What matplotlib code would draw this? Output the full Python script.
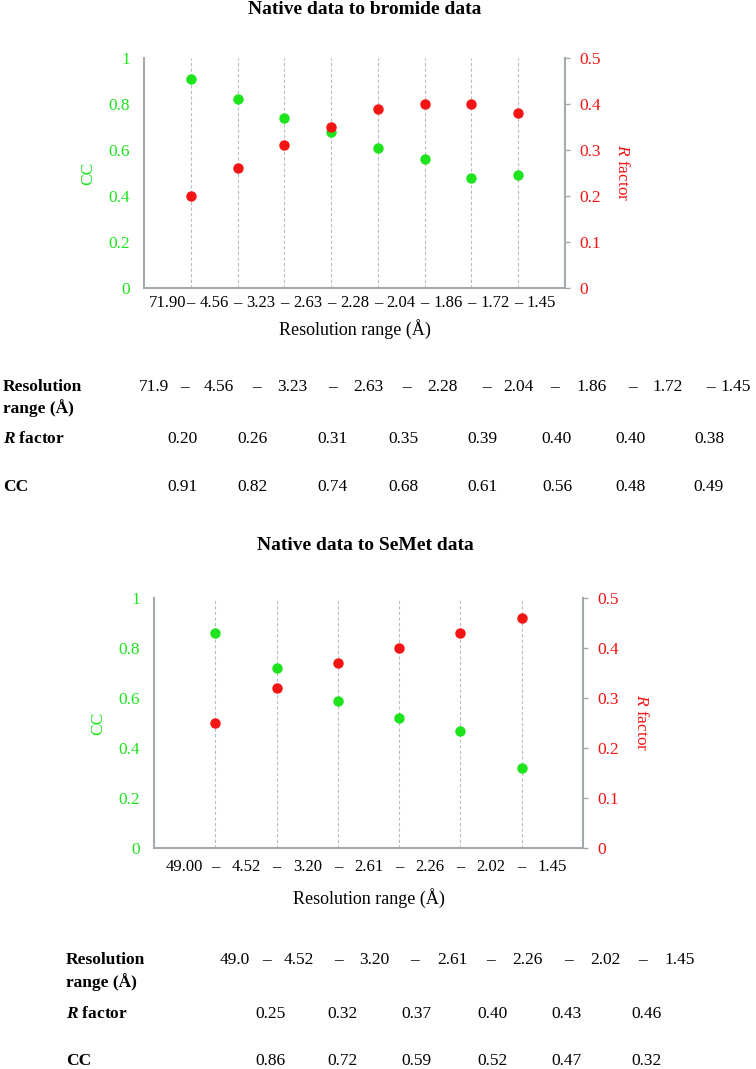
import matplotlib
matplotlib.use("Agg")
import matplotlib.pyplot as plt
import numpy as np

plt.rcParams['font.family'] = ['Liberation Serif', 'DejaVu Serif']
plt.rcParams['mathtext.fontset'] = 'custom'
plt.rcParams['mathtext.rm'] = 'Liberation Serif'
plt.rcParams['mathtext.it'] = 'Liberation Serif:italic'
plt.rcParams['mathtext.bf'] = 'Liberation Serif:bold:italic'

# ---------------- data
# bromide
br_bounds = ["71.90", "4.56", "3.23", "2.63", "2.28", "2.04", "1.86", "1.72", "1.45"]
br_table_bounds = ["71.9", "4.56", "3.23", "2.63", "2.28", "2.04", "1.86", "1.72", "1.45"]
br_r = [0.20, 0.26, 0.31, 0.35, 0.39, 0.40, 0.40, 0.38]
br_cc = [0.91, 0.82, 0.74, 0.68, 0.61, 0.56, 0.48, 0.49]

# semet
se_bounds = ["49.00", "4.52", "3.20", "2.61", "2.26", "2.02", "1.45"]
se_table_bounds = ["49.0", "4.52", "3.20", "2.61", "2.26", "2.02", "1.45"]
se_r = [0.25, 0.32, 0.37, 0.40, 0.43, 0.46]
se_cc = [0.86, 0.72, 0.59, 0.52, 0.47, 0.32]

GREEN = "#1ee41e"
RED = "#f41414"
SPINE = "#a3aaae"
GRID = "#b8bfc3"
FS = 12.5

W, H = 756, 1069
fig = plt.figure(figsize=(W / 100, H / 100), dpi=100)


def px(x, y):
    # pixel coords (from top-left) -> figure fraction
    return x / W, 1 - y / H


def make_chart(rect, bounds, cc, rf, title, title_y, xt_pad, xl_pad, r_pad):
    ax = fig.add_axes(rect)
    n = len(cc)
    x = np.arange(1, n + 1)
    ax.set_xlim(0, n + 1)
    ax.set_ylim(0, 1)

    # dashes at the categories, boundary values in between
    ax.set_xticks(x)
    ax.set_xticklabels(["\u2013"] * n)
    ax.set_xticks(np.arange(0.5, n + 1, 1), minor=True)
    ax.set_xticklabels(bounds, minor=True)
    ax.tick_params(axis='x', which='both', length=0, labelsize=12, pad=xt_pad)
    ax.xaxis.grid(True, which='major', color=GRID, linestyle=(0, (3, 2)), linewidth=0.8)
    ax.set_axisbelow(True)

    ax.set_yticks(np.linspace(0, 1, 6))
    ax.set_yticklabels(["0", "0.2", "0.4", "0.6", "0.8", "1"])
    ax.tick_params(axis='y', length=0, pad=10, labelsize=FS, labelcolor=GREEN)
    ax.set_ylabel("CC", color=GREEN, fontsize=FS, labelpad=9)
    ax.set_xlabel("Resolution range (\u00c5)", fontsize=13, labelpad=xl_pad)

    for s in ['left', 'bottom']:
        ax.spines[s].set_color(SPINE)
        ax.spines[s].set_linewidth(1.5)
    ax.spines['top'].set_visible(False)
    ax.spines['right'].set_visible(False)

    ax.plot(x, cc, 'o', color=GREEN, ms=6.5, clip_on=False)

    axr = ax.twinx()
    axr.set_ylim(0, 0.5)
    axr.set_yticks(np.linspace(0, 0.5, 6))
    axr.set_yticklabels(["0", "0.1", "0.2", "0.3", "0.4", "0.5"])
    axr.tick_params(axis='y', direction='out', length=3.6, width=1, color=SPINE,
                    pad=6.5, labelsize=FS, labelcolor=RED)
    axr.set_ylabel("$R$ factor", color=RED, fontsize=FS, rotation=270, labelpad=r_pad)
    axr.spines['right'].set_color(SPINE)
    axr.spines['right'].set_linewidth(1.5)
    for s in ['top', 'left', 'bottom']:
        axr.spines[s].set_visible(False)
    axr.plot(x, rf, 'o', color=RED, ms=6.5, clip_on=False)

    tx, ty = px(365, title_y)
    fig.text(tx, ty, title, ha='center', va='center', fontsize=14, fontweight='bold')
    return ax


def make_table(label_x, rows_y, bounds, num_x, dash_x, rf, cc, val_x):
    y_res, y_range, y_r, y_cc = rows_y
    for txt, yy in [("Resolution", y_res), ("range (\u00c5)", y_range),
                    (r"$\mathbf{R}$ factor", y_r), ("CC", y_cc)]:
        fx, fy = px(label_x, yy)
        fig.text(fx, fy, txt, ha='left', va='center', fontsize=FS, fontweight='bold')
    for b, xx in zip(bounds, num_x):
        fx, fy = px(xx, y_res)
        fig.text(fx, fy, b, ha='center', va='center', fontsize=FS)
    for xx in dash_x:
        fx, fy = px(xx, y_res)
        fig.text(fx, fy, "\u2013", ha='center', va='center', fontsize=FS)
    for vals, yy in [(rf, y_r), (cc, y_cc)]:
        for v, xx in zip(vals, val_x):
            fx, fy = px(xx, yy)
            fig.text(fx, fy, "%.2f" % v, ha='center', va='center', fontsize=FS)


# top chart: spine x 144..565, y 58..288
l, b = px(144, 288)
make_chart([l, b, (565 - 144) / W, 230 / H], br_bounds, br_cc, br_r,
           "Native data to bromide data", 9, 5, 6, 21)
make_table(3, (387, 408, 439, 487), br_table_bounds,
           [154, 219, 292, 368, 442, 518, 592, 668, 736],
           [185, 257, 332, 407, 487, 555, 633, 710],
           br_r, br_cc, [183, 252, 333, 403, 482, 557, 631, 709])

# bottom chart: spine x 154..583, y 598..848
l, b = px(154, 848)
make_chart([l, b, (583 - 154) / W, 250 / H], se_bounds, se_cc, se_r,
           "Native data to SeMet data", 546, 8, 9, 22)
make_table(66, (960, 982, 1014, 1061), se_table_bounds,
           [235, 299, 374, 452, 527, 605, 680],
           [266, 338, 414, 491, 568, 642],
           se_r, se_cc, [270, 343, 416, 493, 567, 647])

fig.savefig("out.png", dpi=100)
